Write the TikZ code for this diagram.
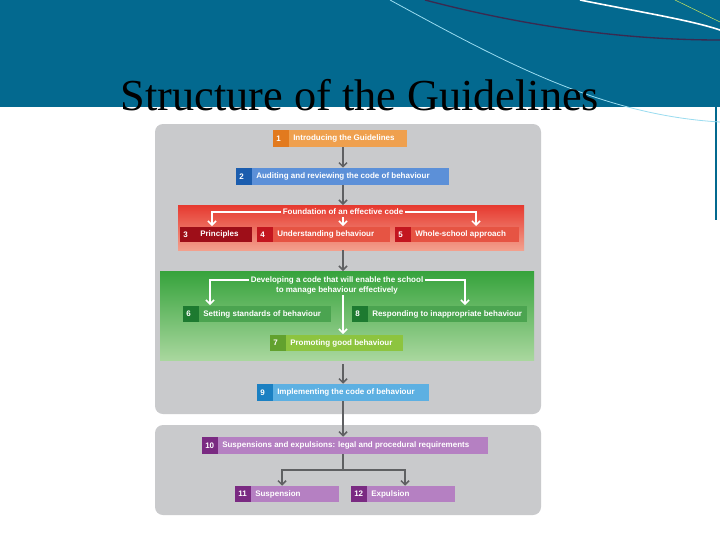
\documentclass[tikz,border=0pt]{standalone}
\usepackage{fontspec}
\setmainfont{Liberation Serif}
\newfontfamily\boxfont{Liberation Sans}
\usetikzlibrary{arrows.meta,calc,fit}
\definecolor{teal}{HTML}{03698F}
\definecolor{panel}{HTML}{C9CACC}
\definecolor{arr}{HTML}{5F6062}
\definecolor{lblue}{HTML}{9ADCF0}
\definecolor{dpurp}{HTML}{3A2A50}
\definecolor{lgreen}{HTML}{C0E060}
\definecolor{redtop}{HTML}{E6392F}
\definecolor{redbot}{HTML}{F3A08D}
\definecolor{grtop}{HTML}{36A33C}
\definecolor{grbot}{HTML}{A9D79E}
\definecolor{orL}{HTML}{EFA04E}
\definecolor{orD}{HTML}{E27A1E}
\definecolor{blL}{HTML}{5C90D8}
\definecolor{blD}{HTML}{1B5DAE}
\definecolor{rdL}{HTML}{E65443}
\definecolor{rdD}{HTML}{C3161F}
\definecolor{rdDD}{HTML}{9E0E18}
\definecolor{gnL}{HTML}{4BA450}
\definecolor{gnD}{HTML}{1D7A30}
\definecolor{g7L}{HTML}{8DC43F}
\definecolor{g7D}{HTML}{62A12E}
\definecolor{b9L}{HTML}{5DB0E2}
\definecolor{b9D}{HTML}{1B80C2}
\definecolor{puL}{HTML}{B580C2}
\definecolor{puD}{HTML}{7A2A82}
\tikzset{
  lbl/.style={font=\boxfont\bfseries\fontsize{6}{7}\selectfont, text=white, inner sep=0pt},
  hdr/.style={font=\boxfont\bfseries\fontsize{6}{7.5}\selectfont, text=white, inner sep=1pt, align=center},
  gray arrow/.style={draw=arr, line width=1.1pt, -{Straight Barb[length=3pt,width=6pt]}},
  white arrow/.style={draw=white, line width=1.1pt, -{Straight Barb[length=3pt,width=6pt]}},
  gray line/.style={draw=arr, line width=1.1pt},
}
% \gbox{name}{x1}{y1}{x2}{y2}{num}{text}{dark}{light}
\newcommand{\gbox}[9]{%
  \fill[#9] (#2,#3) rectangle (#4,#5);
  \fill[#8] (#2,#3) rectangle ($(#2,#5)+(16,0)$);
  \node[inner sep=0pt, fit={(#2,#3)(#4,#5)}] (#1) {};
  \node[lbl, anchor=west] (#1n) at ($(#2,#3)!0.5!(#2,#5)+(3,0)$) {#6};
  \node[lbl, anchor=west] (#1t) at ($(#2,#3)!0.5!(#2,#5)+(20,0)$) {#7};
}
\begin{document}
\begin{tikzpicture}[x=0.75pt,y=-0.75pt]
\useasboundingbox (0,0) rectangle (720,540);
\fill[white] (0,0) rectangle (720,540);
% banner
\fill[teal] (0,0) rectangle (720,107);
\draw[teal, line width=1pt] (716,107) -- (716,220);
\draw[lblue, line width=0.6pt] (390,0) .. controls (500,60) and (600,115) .. (720,122);
\draw[white, line width=1.2pt] (580,0) .. controls (640,12) and (690,20) .. (720,30);
\draw[dpurp, line width=1pt] (425,0) .. controls (520,25) and (620,40) .. (720,40);
\draw[lgreen, line width=0.4pt] (675,0) -- (720,22);
\node[font=\fontsize{33.2}{38}\selectfont, anchor=base, inner sep=0pt] (title) at (360,110.5) {Structure of the Guidelines};
% panels
\fill[panel, rounded corners=6pt] (155,124) rectangle (541,414);
\fill[panel, rounded corners=6pt] (155,425) rectangle (541,515);
% bands
\shade[top color=redtop, bottom color=redbot] (178,205) rectangle (524,250);
\shade[top color=grtop, bottom color=grbot] (160,271) rectangle (534,360);
% boxes
\gbox{b1}{273}{130}{407}{147}{1}{Introducing the Guidelines}{orD}{orL}
\gbox{b2}{236}{168}{449}{185}{2}{Auditing and reviewing the code of behaviour}{blD}{blL}
\gbox{b3}{180}{227}{252}{242}{3}{Principles}{rdDD}{rdDD}
\gbox{b4}{257}{227}{390}{242}{4}{Understanding behaviour}{rdD}{rdL}
\gbox{b5}{395}{227}{519}{242}{5}{Whole-school approach}{rdD}{rdL}
\gbox{b6}{183}{306}{331}{322}{6}{Setting standards of behaviour}{gnD}{gnL}
\gbox{b8}{352}{306}{527}{322}{8}{Responding to inappropriate behaviour}{gnD}{gnL}
\gbox{b7}{270}{335}{403}{351}{7}{Promoting good behaviour}{g7D}{g7L}
\gbox{b9}{257}{384}{429}{401}{9}{Implementing the code of behaviour}{b9D}{b9L}
\gbox{b10}{202}{437}{488}{454}{10}{Suspensions and expulsions: legal and procedural requirements}{puD}{puL}
\gbox{b11}{235}{486}{339}{502}{11}{Suspension}{puD}{puL}
\gbox{b12}{351}{486}{455}{502}{12}{Expulsion}{puD}{puL}
% headers
\node[hdr] (h1) at (343,212) {Foundation of an effective code};
\node[hdr] (h2) at (337,285) {Developing a code that will enable the school\\to manage behaviour effectively};
% gray arrows
\draw[gray arrow] (b1.south -| h1) -- (b2.north -| h1);
\draw[gray arrow] (b2.south -| h1) -- (343,205);
\draw[gray line] (343,250) -- (343,259);
\draw[gray arrow] (343,259) -- (343,271);
\draw[gray arrow] (343,364) -- (b9.north -| h1);
\draw[gray arrow] (b9.south -| h1) -- (b10.north -| h1);
\draw[gray line] (b10.south -| h1) -- (343,470) coordinate (c1);
\draw[gray arrow] (c1) -| (b11.north -| 282,0);
\draw[gray arrow] (c1) -| (b12.north -| 405,0);
% white arrows red band
\draw[white arrow] (h1.west) -| (212,226);
\draw[white arrow] (h1.east) -| (476,226);
\draw[white arrow] (343,217) -- (343,226);
% white arrows green band
\draw[white arrow] (h2.west |- 0,280) -| (210,305);
\draw[white arrow] (h2.east |- 0,280) -| (465,305);
\draw[white arrow] (343,295) -- (343,334);
\end{tikzpicture}
\end{document}
